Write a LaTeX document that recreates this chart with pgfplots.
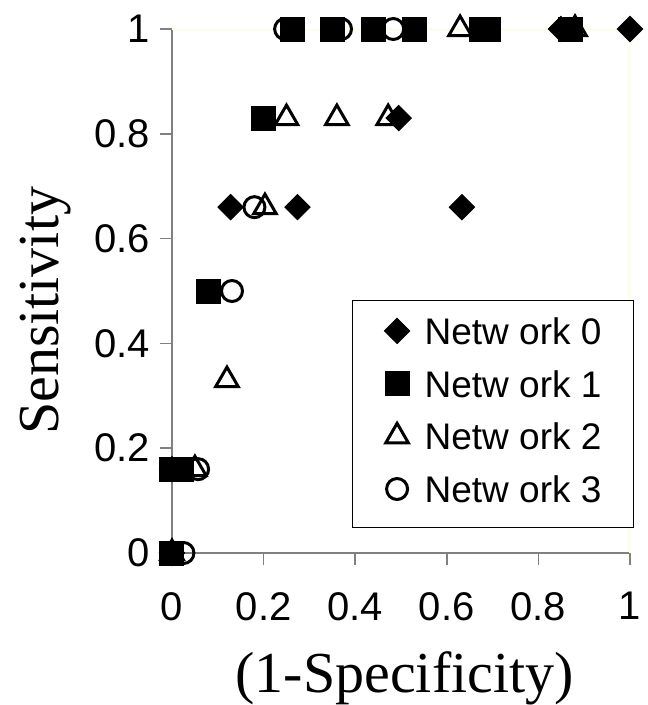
\documentclass[border=0pt]{standalone}
\usepackage{pgfplots}
\pgfplotsset{compat=1.18}
\usepackage{fontspec}
\setmainfont{Liberation Serif}
\newfontfamily\arial{Liberation Sans}
\definecolor{axisgray}{RGB}{128,128,128}
\definecolor{paleyellow}{RGB}{255,255,200}

% (1-Specificity)  Sensitivity
\pgfplotstableread{
x y
0 0
0 0.16
0.128 0.66
0.274 0.66
0.633 0.66
0.495 0.83
0.849 1
1 1
}\netzero
\pgfplotstableread{
x y
0 0
0 0.16
0.02 0.16
0.08 0.5
0.2 0.83
0.263 1
0.35 1
0.44 1
0.53 1
0.675 1
0.69 1
0.869 1
}\netone
\pgfplotstableread{
x y
0 0
0.05 0.16
0.12 0.33
0.203 0.66
0.25 0.83
0.36 0.83
0.472 0.83
0.629 1
0.88 1
}\nettwo
\pgfplotstableread{
x y
0.025 0
0.057 0.16
0.131 0.5
0.18 0.66
0.247 1
0.369 1
0.483 1
0.869 1
}\netthree

\begin{document}
\begin{tikzpicture}
\useasboundingbox (-172pt,-152pt) rectangle (476pt,553pt);
\begin{axis}[
  scale only axis, width=458pt, height=524pt,
  xmin=0, xmax=1, ymin=0, ymax=1,
  clip=false,
  axis lines=left,
  axis line style={-, axisgray, line width=1.5pt},
  tick align=outside, major tick length=12pt,
  tick style={axisgray, line width=1.5pt},
  xtick={0,0.2,0.4,0.6,0.8,1}, ytick={0,0.2,0.4,0.6,0.8,1},
  /pgf/number format/assume math mode=true,
  ticklabel style={font=\arial\fontsize{40}{40}\selectfont, inner sep=0pt},
  yticklabel style={anchor=east, xshift=-10pt},
  xticklabel style={anchor=north, yshift=-27pt},
  xlabel={(1-Specificity)}, ylabel={Sensitivity},
  xlabel style={font=\fontsize{58}{58}\selectfont, at={(axis description cs:0.508,-0.24)}, anchor=center},
  ylabel style={font=\fontsize{58}{58}\selectfont, at={(axis description cs:-0.277,0.462)}, anchor=center},
  legend style={at={(axis description cs:0.393,0.483)}, anchor=north west,
    draw=black, line width=1pt, font=\arial\fontsize{37}{37}\selectfont,
    inner xsep=32pt, inner ysep=16.5pt, row sep=16.7pt, column sep=15pt,
    nodes={inner sep=0pt, text height=27pt, text depth=0pt}},
  legend cell align=left,
  net/.style={only marks, legend image code/.code={%
    \path (0pt,-21.5pt) (0pt,13.5pt);
    \draw[##1] plot coordinates {(0pt,0pt)};}},
]
\draw[paleyellow, line width=1pt] (axis cs:0,1) -- (axis cs:1,1) -- (axis cs:1,0);
\addplot[net, mark=square*, mark size=8.9pt, mark options={rotate=45, fill=black, draw=black, line width=1pt}] table {\netzero};
\addlegendentry{Netw ork 0}
\addplot[net, mark=square*, mark size=12pt, mark options={fill=black, draw=black, line width=1pt}] table {\netone};
\addlegendentry{Netw ork 1}
\addplot[net, mark=triangle, mark size=13pt, mark options={draw=black, line width=3pt}] table {\nettwo};
\addlegendentry{Netw ork 2}
\addplot[net, mark=o, mark size=10.5pt, mark options={draw=black, line width=3pt}] table {\netthree};
\addlegendentry{Netw ork 3}
\end{axis}
\end{tikzpicture}
\end{document}
